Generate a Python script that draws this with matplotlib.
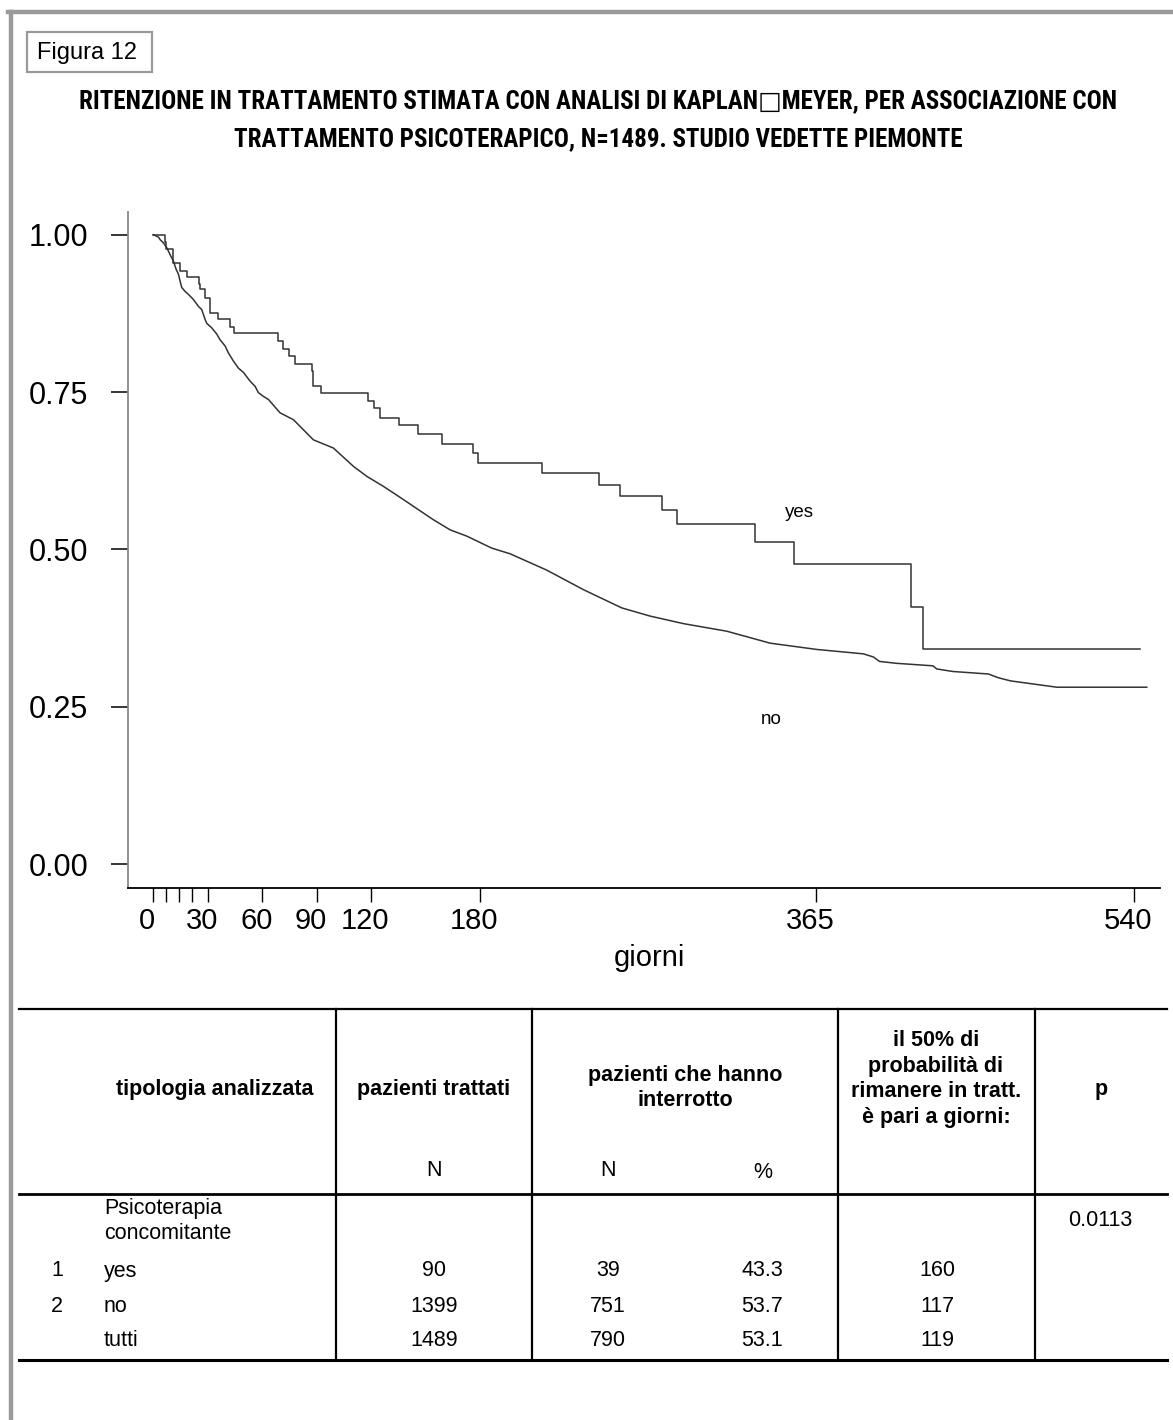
import matplotlib
matplotlib.use("Agg")
import matplotlib.pyplot as plt
import matplotlib.transforms as mtransforms
from matplotlib import font_manager
from matplotlib.lines import Line2D
from matplotlib.patches import Rectangle

# ---- data ----
# Kaplan-Meier steps, "yes" group (psicoterapia concomitante)
yes_t = [0, 6.1, 6.8, 11.0, 14.7, 18.7, 25.0, 25.7, 28.5, 30.9, 35.8, 41.9, 44.6,
         68.8, 71.2, 74.9, 77.8, 87.1, 88.1, 92.2, 118.0, 121.2, 125.0, 135.1,
         145.9, 158.8, 175.9, 179.0, 214.2, 245.1, 257.0, 280.3, 288.2, 331.0,
         353.0, 417.2, 424.0, 543.3]
yes_s = [1.0, 0.988, 0.977, 0.955, 0.943, 0.933, 0.921, 0.913, 0.899, 0.876, 0.866,
         0.854, 0.843, 0.831, 0.819, 0.807, 0.795, 0.783, 0.760, 0.748, 0.735,
         0.724, 0.709, 0.697, 0.683, 0.668, 0.653, 0.637, 0.622, 0.603, 0.585,
         0.563, 0.541, 0.512, 0.477, 0.409, 0.342, 0.342]

# "no" group: many small steps, read as points along the curve
no_t = [0, 2.8, 3.7, 5.5, 7.4, 9.2, 11.0, 12.5, 13.8, 14.7, 15.6, 17.4, 19.3, 22.0,
        24.8, 26.6, 28.5, 29.4, 32.1, 34.9, 36.7, 39.5, 41.3, 44.1, 46.8, 49.6,
        53.3, 56.0, 57.8, 60.6, 63.4, 69.7, 77.1, 88.1, 99.1, 110.1, 117.5, 126.7,
        136.7, 154.2, 163.4, 172.6, 186.3, 196.4, 216.6, 236.8, 257.9, 273.5,
        291.9, 315.7, 339.6, 365.3, 383.6, 391.0, 396.5, 399.8, 409.0, 429.2,
        431.4, 440.2, 459.8, 465.3, 472.1, 497.5, 547.0]
no_s = [1.0, 0.996, 0.992, 0.987, 0.979, 0.968, 0.958, 0.945, 0.937, 0.926, 0.916,
        0.910, 0.905, 0.897, 0.886, 0.881, 0.865, 0.859, 0.852, 0.842, 0.833,
        0.823, 0.812, 0.799, 0.788, 0.781, 0.767, 0.759, 0.749, 0.743, 0.738,
        0.717, 0.706, 0.674, 0.661, 0.632, 0.616, 0.600, 0.581, 0.547, 0.531,
        0.521, 0.502, 0.493, 0.467, 0.436, 0.407, 0.394, 0.382, 0.370, 0.351,
        0.341, 0.336, 0.334, 0.329, 0.322, 0.319, 0.315, 0.310, 0.306, 0.302,
        0.296, 0.291, 0.281, 0.281]

x_ticks = [0, 7, 14, 21, 30, 60, 90, 120, 180, 365, 540]
x_labels = ["0", "", "", "", "30", "60", "90", "120", "180", "365", "540"]
y_ticks = [0, 0.25, 0.5, 0.75, 1.0]
y_labels = ["0.00", "0.25", "0.50", "0.75", "1.00"]

title_lines = ["RITENZIONE IN TRATTAMENTO STIMATA CON ANALISI DI KAPLAN\u25a1MEYER, PER ASSOCIAZIONE CON",
               "TRATTAMENTO PSICOTERAPICO, N=1489. STUDIO VEDETTE PIEMONTE"]

row_num = ["1", "2", ""]
row_name = ["yes", "no", "tutti"]
n_treated = [90, 1399, 1489]
n_stopped = [39, 751, 790]
pct_stopped = [43.3, 53.7, 53.1]
median_days = [160, 117, 119]
p_value = "0.0113"

W, H = 1173, 1420
plt.rcParams['font.family'] = ['Liberation Sans', 'DejaVu Sans']

# the title uses a very narrow face; take a narrow one if it is installed
names = {f.name for f in font_manager.fontManager.ttflist}
narrow = None
for cand in ['Roboto Condensed', 'Liberation Sans Narrow', 'Open Sans Condensed']:
    if cand in names:
        narrow = font_manager.FontProperties(family=[cand, 'DejaVu Sans'], weight='bold')
        break
if narrow is None:
    cond = [f for f in font_manager.fontManager.ttflist
            if f.name == 'DejaVu Sans' and f.stretch == 'condensed']
    if cond:
        narrow = font_manager.FontProperties(family=['DejaVu Sans'], stretch='condensed',
                                             weight='bold')
    else:
        narrow = font_manager.FontProperties(family=['Liberation Sans', 'DejaVu Sans'],
                                             weight='bold')

fig = plt.figure(figsize=(W / 100, H / 100), dpi=100)


def fx(x):
    return x / W


def fy(y):
    return 1 - y / H


# outer gray frame (top and left only)
fig.add_artist(Line2D([fx(8), fx(1173)], [fy(12), fy(12)], color='#9a9a9a', lw=3.2))
fig.add_artist(Line2D([fx(10.5), fx(10.5)], [fy(12), fy(1420)], color='#9a9a9a', lw=3.2))

# "Figura 12" box
fig.add_artist(Rectangle((fx(27), fy(72)), (152 - 27) / W, (72 - 32) / H,
                         fill=False, ec='#9a9a9a', lw=1.6))
fig.text(fx(37), fy(53), "Figura 12", fontsize=17, va='center', ha='left')

# title, sized so that the first line spans about 1040 px (max ~22 pt)
t1 = fig.text(fx(598), fy(101), title_lines[0], fontproperties=narrow,
              fontsize=14, ha='center', va='center')
fig.canvas.draw()
w1 = t1.get_window_extent().width
tsize = min(14 * 1040 / w1, 22)
t1.set_fontsize(tsize)
fig.text(fx(598), fy(139), title_lines[1], fontproperties=narrow,
         fontsize=tsize, ha='center', va='center')

# ---- KM chart ----
ax = fig.add_axes([fx(128), fy(888), (1160 - 128) / W, (888 - 212) / H])
ax.plot(yes_t, yes_s, drawstyle='steps-post', color='#333333', lw=1.1)
ax.plot(no_t, no_s, color='#333333', lw=1.1)
ax.set_xlim(-14.0, 554.3)
ax.set_ylim(-0.038, 1.036)

for s in ['top', 'right']:
    ax.spines[s].set_visible(False)
ax.spines['left'].set_color('#888888')
ax.spines['left'].set_linewidth(1.3)
ax.spines['bottom'].set_color('black')
ax.spines['bottom'].set_linewidth(1.3)

ax.set_yticks(y_ticks)
ax.set_yticklabels(y_labels)
ax.set_xticks(x_ticks)
ax.set_xticklabels(x_labels)
ax.tick_params(axis='y', length=12.5, width=1.1, pad=16, labelsize=22, direction='out')
ax.tick_params(axis='x', length=10, width=1.0, pad=4, labelsize=21, direction='out')
shift = mtransforms.ScaledTranslation(-6 / 100, 0, fig.dpi_scale_trans)
for lab in ax.get_xticklabels():
    lab.set_transform(lab.get_transform() + shift)

ax.text(355.6, 0.558, "yes", fontsize=13.5, ha='center', va='center')
ax.text(340.4, 0.229, "no", fontsize=13.5, ha='center', va='center')
fig.text(fx(649), fy(958), "giorni", fontsize=21, ha='center', va='center')

# ---- table ----
tab_top, tab_sep, tab_bot = 1009, 1194, 1360
for yy, lw in [(tab_top, 1.6), (tab_sep, 2.0), (tab_bot, 2.2)]:
    fig.add_artist(Line2D([fx(19), fx(1167)], [fy(yy), fy(yy)], color='black', lw=lw))
for xx in [336, 532, 838, 1035]:
    fig.add_artist(Line2D([fx(xx), fx(xx)], [fy(tab_top), fy(tab_bot)], color='black', lw=1.6))

fs = 15.5
hdr = dict(fontsize=fs, fontweight='bold', ha='center', va='center', linespacing=1.3)
fig.text(fx(215), fy(1090), "tipologia analizzata", **hdr)
fig.text(fx(434), fy(1090), "pazienti trattati", **hdr)
fig.text(fx(685), fy(1088), "pazienti che hanno\ninterrotto", **hdr)
fig.text(fx(936), fy(1079), "il 50% di\nprobabilit\u00e0 di\nrimanere in tratt.\n\u00e8 pari a giorni:", **hdr)
fig.text(fx(1101), fy(1090), "p", **hdr)

cell = dict(fontsize=fs, ha='center', va='center')
fig.text(fx(434), fy(1171), "N", **cell)
fig.text(fx(608), fy(1171), "N", **cell)
fig.text(fx(763), fy(1172), "%", **cell)

fig.text(fx(104), fy(1221), "Psicoterapia\nconcomitante", fontsize=fs, ha='left',
         va='center', linespacing=1.25)
fig.text(fx(1100), fy(1221), p_value, **cell)

row_y = [1271, 1306, 1340]
for i, yy in enumerate(row_y):
    fig.text(fx(57), fy(yy), row_num[i], **cell)
    fig.text(fx(104), fy(yy), row_name[i], fontsize=fs, ha='left', va='center')
    fig.text(fx(434), fy(yy), str(n_treated[i]), **cell)
    fig.text(fx(608), fy(yy), str(n_stopped[i]), **cell)
    fig.text(fx(762), fy(yy), "%.1f" % pct_stopped[i], **cell)
    fig.text(fx(937), fy(yy), str(median_days[i]), **cell)

fig.savefig("out.png", dpi=100, facecolor='white')
